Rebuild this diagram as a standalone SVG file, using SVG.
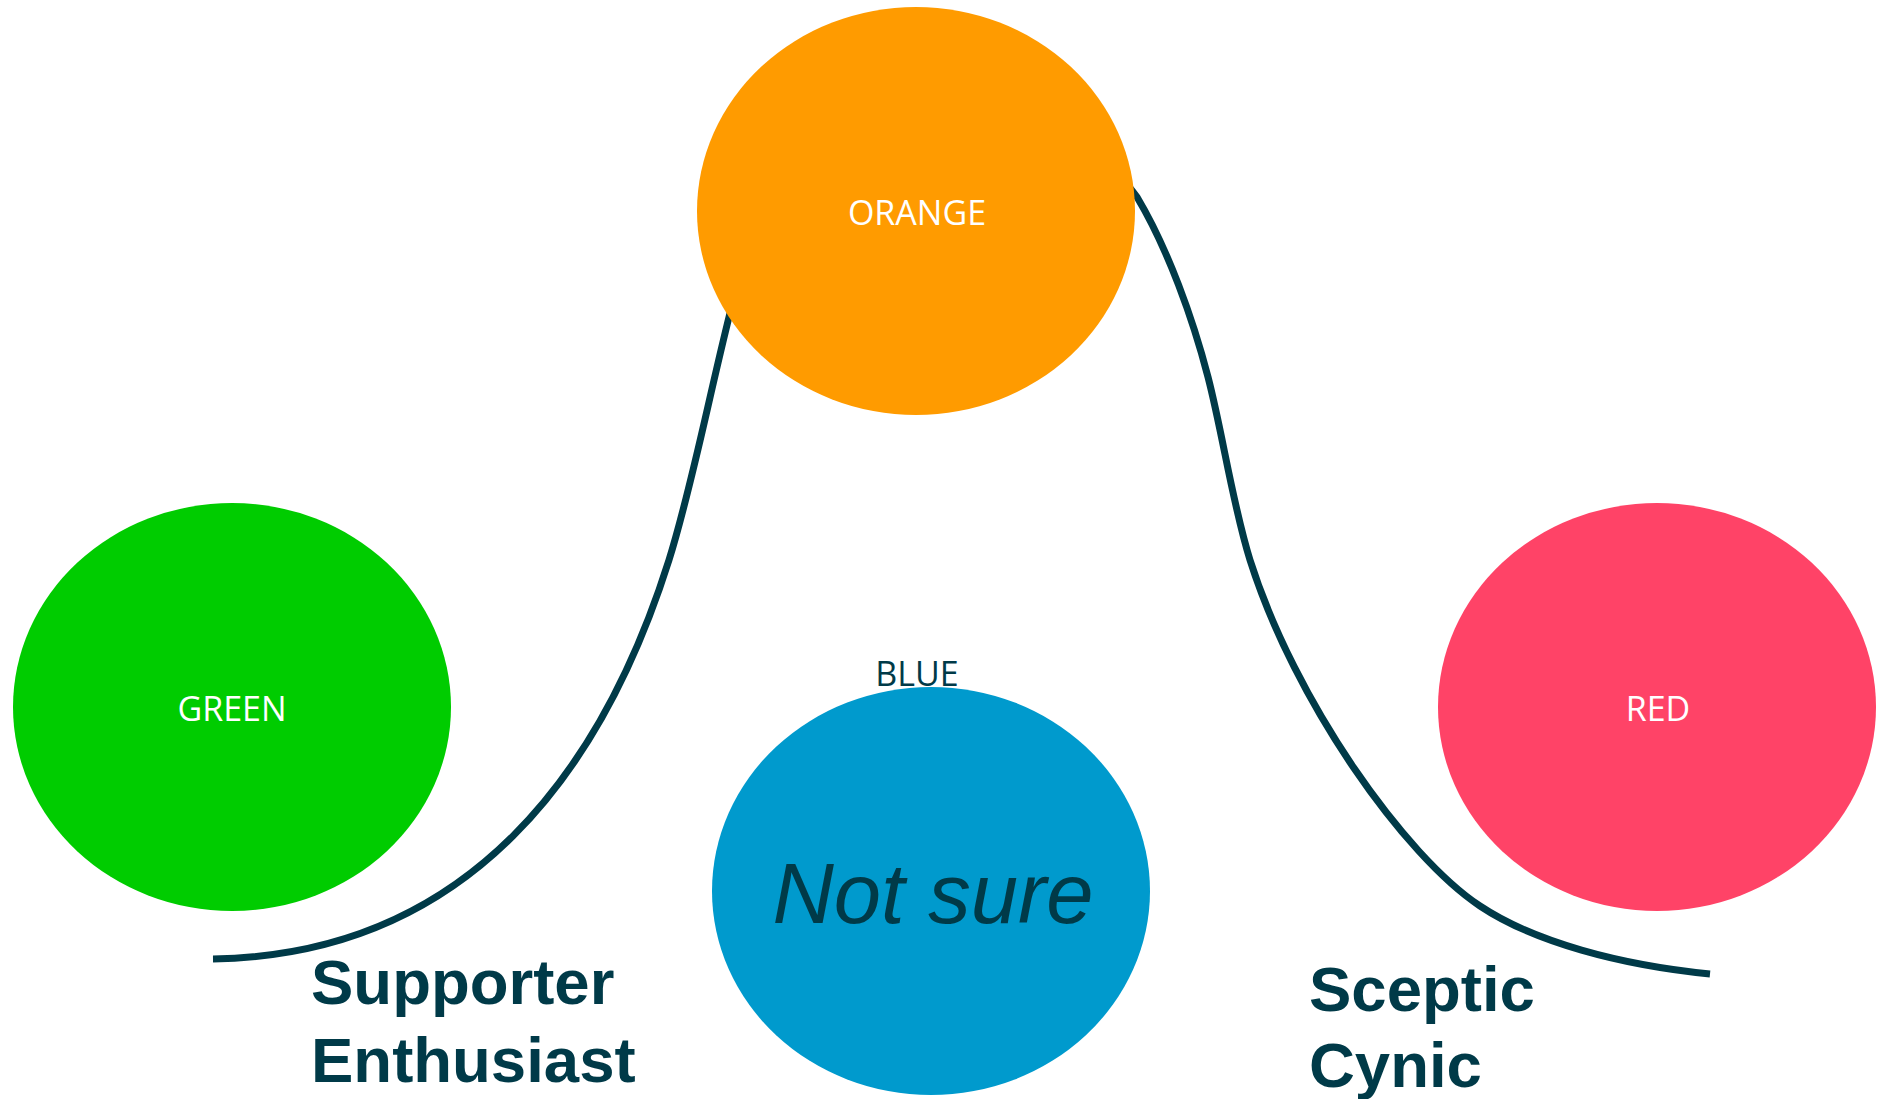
<svg xmlns="http://www.w3.org/2000/svg" width="1883" height="1099" viewBox="0 0 1883 1099">
  <style>
    .lbl { font-family: "Open Sans", "Noto Sans", sans-serif; font-size: 34px; text-anchor: middle; }
    .white { fill: #FFFFFF; }
    .dark { fill: #003A48; }
    .big { font-family: "Liberation Sans", Arial, sans-serif; font-size: 63.5px; font-weight: bold; fill: #003A48; }
    .conn { fill: none; stroke: #003A48; stroke-width: 7; stroke-linecap: butt; }
  </style>
  <rect width="1883" height="1099" fill="#FFFFFF"/>
  <g id="connectors">
    <path class="conn" d="M 213 959 C 470 955, 603 769, 669 560 C 691 490, 708 401, 730 313 C 745 255, 820 95, 930 88 C 1030 82, 1110 160, 1137 197 C 1168 249, 1193 319, 1208 377 C 1223 435, 1232 502, 1250 560 C 1295 702.5, 1405 856.3, 1480 906 C 1534 942, 1620 965, 1710 974"/>
  </g>
  <g id="node-orange">
    <ellipse cx="916" cy="211" rx="219" ry="204" fill="#FF9B00"/>
    <text class="lbl white" x="917" y="225">ORANGE</text>
  </g>
  <g id="node-green">
    <ellipse cx="232" cy="707" rx="219" ry="204" fill="#00CC00"/>
    <text class="lbl white" x="232" y="721">GREEN</text>
  </g>
  <g id="node-red">
    <ellipse cx="1657" cy="707" rx="219" ry="204" fill="#FF4367"/>
    <text class="lbl white" x="1658" y="721">RED</text>
  </g>
  <g id="node-blue">
    <ellipse cx="931" cy="891" rx="219" ry="204" fill="#009ACD"/>
    <text class="lbl dark" x="917" y="686">BLUE</text>
    <text x="933" y="923" text-anchor="middle" font-family="Liberation Sans, Arial, sans-serif" font-size="85" font-style="italic" fill="#003A48">Not sure</text>
  </g>
  <g id="label-supporter">
    <text class="big" x="311" y="1004">Supporter</text>
    <text class="big" x="311" y="1082">Enthusiast</text>
  </g>
  <g id="label-sceptic">
    <text class="big" x="1309" y="1011">Sceptic</text>
    <text class="big" x="1309" y="1087">Cynic</text>
  </g>
</svg>
